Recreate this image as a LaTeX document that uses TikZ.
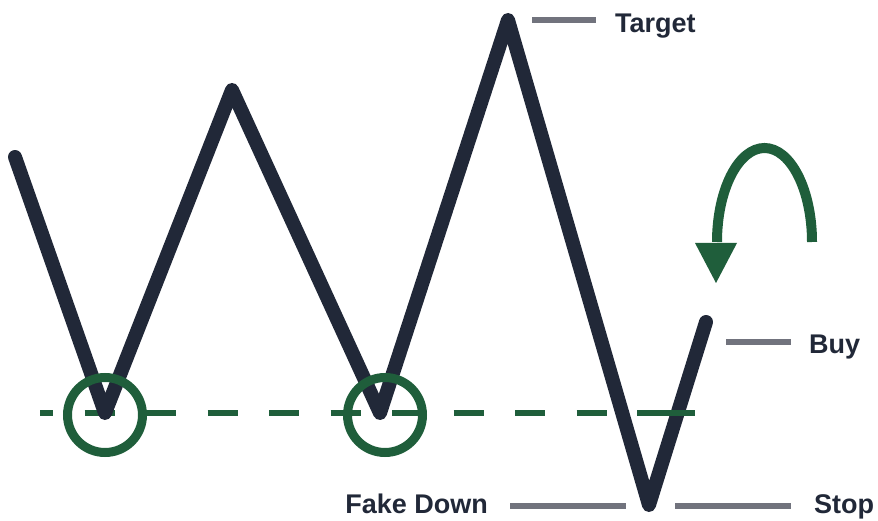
\documentclass[tikz,border=0pt]{standalone}
\usepackage{fontspec}
\setmainfont{Liberation Sans}
\definecolor{ink}{HTML}{212838}
\definecolor{grn}{HTML}{1F5E3B}
\definecolor{gry}{HTML}{71737D}
\begin{document}
\begin{tikzpicture}[x=1pt,y=-1pt,
  price/.style={draw=ink,line width=14pt,line cap=round,line join=round},
  ring/.style={draw=grn,line width=9pt},
  level/.style={draw=gry,line width=6pt},
  lbl/.style={text=ink,font=\fontsize{27}{30}\selectfont\bfseries,inner sep=0pt},
  support/.style={draw=grn,line width=6pt,dash pattern=on 30pt off 31.5pt,dash phase=17pt}]
\useasboundingbox (0,0) rectangle (878,521);
% zigzag points
\coordinate (p0) at (15,157);
\coordinate (p1) at (105,413);
\coordinate (p2) at (232,90);
\coordinate (p3) at (380,413);
\coordinate (p4) at (508,20);
\coordinate (p5) at (649,505);
\coordinate (p6) at (706,322);
% support line
\coordinate (s0) at (40,413);
\coordinate (s1) at (667,413);
\coordinate (s2) at (637,413);
\coordinate (s3) at (695,413);
\draw[support] (s0) -- (s1);
\draw[price] (p0) -- (p1) -- (p2) -- (p3) -- (p4) -- (p5) -- (p6);
\draw[draw=grn,line width=6pt] (s2) -- (s3);
% circles
\node[ring,circle,minimum size=75pt,inner sep=0pt] (c1) at (105,415) {};
\node[ring,circle,minimum size=75pt,inner sep=0pt] (c2) at (385,415) {};
% level lines and labels
\coordinate (t0) at (532,20); \coordinate (t1) at (596,20);
\draw[level] (t0) -- (t1);
\node[lbl,anchor=base west] (target) at (615,33) {Target};
\coordinate (b0) at (726,342); \coordinate (b1) at (791,342);
\draw[level] (b0) -- (b1);
\node[lbl,anchor=base west] (buy) at (809,353) {Buy};
\coordinate (f0) at (510,506); \coordinate (f1) at (626,506);
\draw[level] (f0) -- (f1);
\node[lbl,anchor=base east] (fake) at (488,513) {Fake Down};
\coordinate (st0) at (675,506); \coordinate (st1) at (791,506);
\draw[level] (st0) -- (st1);
\node[lbl,anchor=base west] (stop) at (814,513) {Stop};
% reversal arrow
\coordinate (a0) at (812,242);
\coordinate (a1) at (717,243);
\draw[draw=grn,line width=10pt] (a0) arc[start angle=0,end angle=-180,x radius=47.5,y radius=94];
\fill[grn] (695,243) -- (737,243) -- (716,283) -- cycle;
\end{tikzpicture}
\end{document}
